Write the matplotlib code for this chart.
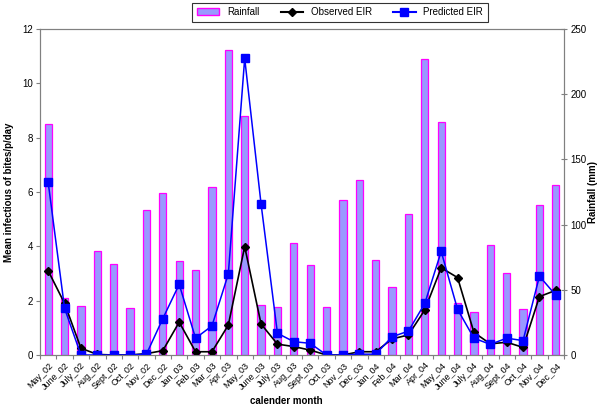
import numpy as np
import matplotlib.pyplot as plt
from matplotlib.patches import Patch
from matplotlib.lines import Line2D

plt.rcParams['font.family'] = ['Liberation Sans', 'DejaVu Sans']

months = ['May_02', 'June_02', 'July_02', 'Aug_02', 'Sept_02', 'Oct_02', 'Nov_02', 'Dec_02',
          'Jan_03', 'Feb_03', 'Mar_03', 'Apr_03', 'May_03', 'June_03', 'July_03', 'Aug_03',
          'Sept_03', 'Oct_03', 'Nov_03', 'Dec_03', 'Jan_04', 'Feb_04', 'Mar_04', 'Apr_04',
          'May_04', 'June_04', 'July_04', 'Aug_04', 'Sept_04', 'Oct_04', 'Nov_04', 'Dec_04']

# rainfall en mm (axe de droite)
rainfall = [177, 44, 37.5, 80, 70, 36, 111, 124,
            72, 65, 129, 234, 183, 38.5, 36.5, 86,
            69, 37, 119, 134, 73, 52, 108, 227,
            179, 40, 33, 84, 63, 35, 115, 130]

# EIR observe et predit (axe de gauche)
observed = [3.1, 1.9, 0.25, 0.02, 0.0, 0.0, 0.05, 0.16,
            1.21, 0.12, 0.12, 1.1, 3.99, 1.14, 0.4, 0.31,
            0.18, 0.0, 0.0, 0.12, 0.12, 0.59, 0.74, 1.66,
            3.21, 2.85, 0.83, 0.41, 0.47, 0.28, 2.15, 2.38]
predicted = [6.35, 1.72, 0.0, 0.0, 0.0, 0.0, 0.03, 1.34,
             2.6, 0.62, 1.07, 2.98, 10.92, 5.56, 0.8, 0.49,
             0.43, 0.0, 0.0, 0.03, 0.03, 0.67, 0.88, 1.9,
             3.81, 1.68, 0.62, 0.39, 0.62, 0.53, 2.9, 2.2]

x = np.arange(len(months))
gris = '#808080'

fig = plt.figure(figsize=(6, 4.11), dpi=100)
ax = fig.add_axes([40 / 600, 1 - 355 / 411, 524 / 600, 326 / 411])
ax2 = ax.twinx()

ax2.bar(x, rainfall, width=0.45, color='#9999FF', edgecolor='#FF00FF', linewidth=0.9)
ax.plot(x, observed, color='black', marker='D', markersize=4.5, linewidth=1.2)
ax.plot(x, predicted, color='#0000FF', marker='s', markersize=5.5, linewidth=1.1)

ax.set_zorder(ax2.get_zorder() + 1)
ax.patch.set_visible(False)

ax.set_xlim(-0.5, len(months) - 0.5)
ax.set_ylim(0, 12)
ax2.set_ylim(0, 250)
ax.set_yticks(np.arange(0, 13, 2))
ax2.set_yticks(np.arange(0, 251, 50))

ax.set_xticks(np.arange(-0.5, len(months), 1))
ax.set_xticklabels([])
ax.set_xticks(x, minor=True)
ax.set_xticklabels(months, minor=True, rotation=45, ha='right', rotation_mode='anchor', fontsize=6.5)
ax.tick_params(axis='x', which='minor', length=0, pad=4)
ax.tick_params(axis='x', which='major', length=3, color=gris, direction='out')
ax.tick_params(axis='y', labelsize=7, length=3, color=gris, direction='out', pad=2)
ax2.tick_params(axis='y', labelsize=7, length=5, color=gris, direction='inout', pad=2)

for a in (ax, ax2):
    for s in a.spines.values():
        s.set_color(gris)

ax.set_ylabel('Mean infectious of bites/p/day', fontsize=7, fontweight='bold', labelpad=6)
ax2.set_ylabel('Rainfall (mm)', fontsize=7, fontweight='bold', labelpad=1)
ax.set_xlabel('calender month', fontsize=7, fontweight='bold')
ax.xaxis.set_label_coords(0.47, -0.125)

handles = [Patch(facecolor='#9999FF', edgecolor='#FF00FF'),
           Line2D([], [], color='black', marker='D', markersize=4.5),
           Line2D([], [], color='#0000FF', marker='s', markersize=5.5)]
leg = fig.legend(handles, ['Rainfall', 'Observed EIR', 'Predicted EIR'], ncol=3,
                 loc='upper center', bbox_to_anchor=(340 / 600, 1.005), fontsize=7,
                 frameon=True, fancybox=False, edgecolor='black', columnspacing=2.2,
                 handlelength=2.3, borderpad=0.45)
leg.get_frame().set_linewidth(0.8)

fig.savefig('out.png', dpi=100)
